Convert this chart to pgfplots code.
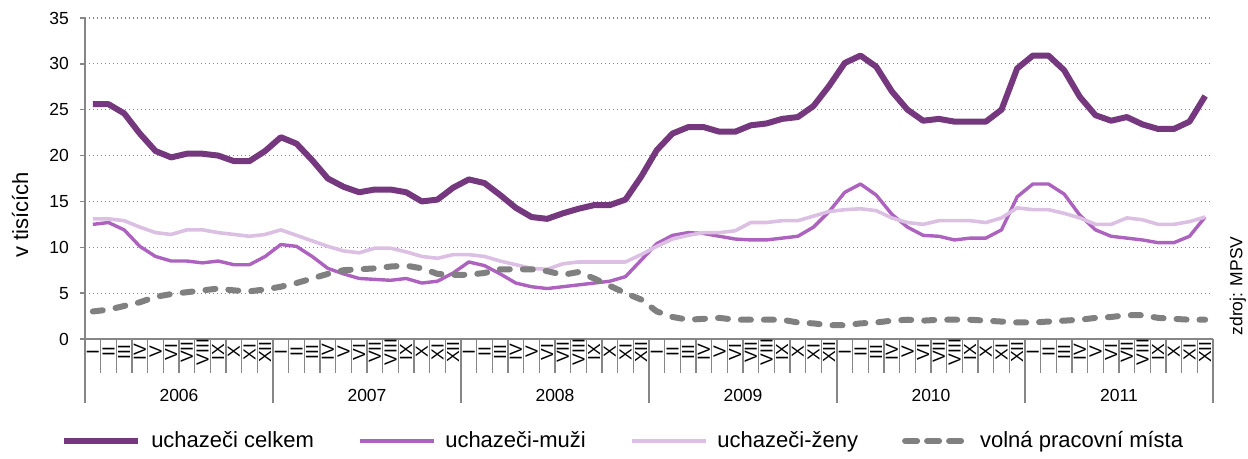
\documentclass[border=0pt]{standalone}
\usepackage{fontspec}
\setmainfont{Liberation Sans}
\usepackage{pgfplots}
\pgfplotsset{compat=1.18}
\usepackage{pgfplotstable}

\definecolor{celk}{RGB}{117,55,125}
\definecolor{muzi}{RGB}{172,98,190}
\definecolor{zeny}{RGB}{220,192,228}
\definecolor{volna}{RGB}{128,128,128}
\definecolor{axgray}{RGB}{134,134,134}

\pgfplotsset{dashleg/.style={legend image code/.code={\draw[##1, dash pattern=on 6pt off 5pt] (3pt,0pt) -- (34pt,0pt);}}}

\pgfplotstableread{
m tot men wom vac
0 25.6 12.5 13.1 3.0
1 25.6 12.7 13.1 3.2
2 24.6 11.9 12.9 3.6
3 22.4 10.1 12.2 4.0
4 20.5 9.0 11.6 4.6
5 19.8 8.5 11.4 4.9
6 20.2 8.5 11.9 5.1
7 20.2 8.3 11.9 5.3
8 20.0 8.5 11.6 5.5
9 19.4 8.1 11.4 5.3
10 19.4 8.1 11.2 5.2
11 20.5 9.0 11.4 5.4
12 22.0 10.3 11.9 5.7
13 21.3 10.1 11.3 6.1
14 19.5 9.0 10.7 6.6
15 17.5 7.7 10.1 7.1
16 16.6 7.1 9.6 7.5
17 16.0 6.6 9.4 7.6
18 16.3 6.5 9.9 7.7
19 16.3 6.4 9.9 7.9
20 16.0 6.6 9.5 8.0
21 15.0 6.1 9.0 7.7
22 15.2 6.3 8.8 7.1
23 16.5 7.2 9.2 7.0
24 17.4 8.4 9.2 7.0
25 17.0 8.0 9.0 7.2
26 15.7 7.1 8.5 7.6
27 14.3 6.1 8.1 7.6
28 13.3 5.7 7.7 7.6
29 13.1 5.5 7.6 7.4
30 13.7 5.7 8.2 7.0
31 14.2 5.9 8.4 7.3
32 14.6 6.1 8.4 6.6
33 14.6 6.3 8.4 5.8
34 15.2 6.8 8.4 5.0
35 17.7 8.6 9.2 4.3
36 20.6 10.4 10.1 3.0
37 22.4 11.3 10.9 2.4
38 23.1 11.6 11.3 2.1
39 23.1 11.5 11.6 2.2
40 22.6 11.2 11.6 2.3
41 22.6 10.9 11.8 2.1
42 23.3 10.8 12.7 2.1
43 23.5 10.8 12.7 2.1
44 24.0 11.0 12.9 2.1
45 24.2 11.2 12.9 1.8
46 25.4 12.2 13.4 1.7
47 27.6 13.9 13.9 1.5
48 30.1 16.0 14.1 1.5
49 30.9 16.9 14.2 1.7
50 29.7 15.7 14.0 1.8
51 27.0 13.6 13.2 2.0
52 25.0 12.2 12.7 2.1
53 23.8 11.3 12.5 2.0
54 24.0 11.2 12.9 2.1
55 23.7 10.8 12.9 2.1
56 23.7 11.0 12.9 2.1
57 23.7 11.0 12.7 2.0
58 25.0 11.9 13.2 1.9
59 29.5 15.5 14.3 1.8
60 30.9 16.9 14.1 1.8
61 30.9 16.9 14.1 1.9
62 29.3 15.8 13.7 2.0
63 26.4 13.5 13.2 2.1
64 24.4 11.9 12.5 2.3
65 23.8 11.2 12.5 2.4
66 24.2 11.0 13.2 2.6
67 23.4 10.8 13.0 2.6
68 22.9 10.5 12.5 2.3
69 22.9 10.5 12.5 2.2
70 23.7 11.2 12.8 2.1
71 26.5 13.3 13.3 2.1
}\data

\begin{document}
\begin{tikzpicture}
\begin{axis}[
  at={(0,0)}, anchor=south west,
  width=564pt, height=160.5pt, scale only axis,
  xmin=-0.5, xmax=71.5, ymin=0, ymax=35,
  clip=false,
  no markers,
  axis x line*=bottom, axis y line*=left,
  axis line style={draw=axgray, line width=1.3pt},
  ytick={0,5,...,35},
  ymajorgrids,
  grid style={draw=axgray, line width=0.6pt, dash pattern=on 0.6pt off 1.4pt},
  tick align=outside,
  major tick length=2.5pt,
  ytick style={draw=axgray, line width=0.75pt},
  xtick={0,...,71},
  xticklabels={I,II,III,IV,V,VI,VII,VIII,IX,X,XI,XII,
               I,II,III,IV,V,VI,VII,VIII,IX,X,XI,XII,
               I,II,III,IV,V,VI,VII,VIII,IX,X,XI,XII,
               I,II,III,IV,V,VI,VII,VIII,IX,X,XI,XII,
               I,II,III,IV,V,VI,VII,VIII,IX,X,XI,XII,
               I,II,III,IV,V,VI,VII,VIII,IX,X,XI,XII},
  major x tick style={draw=none},
  minor xtick={-0.5,0.5,...,71.5},
  minor tick length=17pt,
  minor x tick style={draw=axgray, line width=0.75pt},
  tick label style={font=\fontsize{8.75}{10}\selectfont},
  xticklabel style={rotate=90, anchor=center, xshift=-4pt},
  yticklabel style={xshift=-2pt},
  /pgf/number format/assume math mode=true,
  ylabel={v tisících},
  ylabel style={at={(axis description cs:-0.0576,0.386)}, anchor=center, font=\fontsize{11}{13}\selectfont},
  legend columns=4,
  legend style={at={(axis description cs:0.478,-0.318)}, anchor=center, draw=none,
    font=\fontsize{11}{13}\selectfont,
    /tikz/every even column/.append style={column sep=20pt},
    /tikz/every odd column/.append style={column sep=3pt}},
  legend image code/.code={\draw[#1] (0pt,0pt) -- (37pt,0pt);},
]
\addplot[color=celk, line width=3pt, line join=round] table[x=m,y=tot]{\data};
\addlegendentry{uchazeči celkem}
\addplot[color=muzi, line width=1.7pt, line join=round] table[x=m,y=men]{\data};
\addlegendentry{uchazeči-muži}
\addplot[color=zeny, line width=1.8pt, line join=round] table[x=m,y=wom]{\data};
\addlegendentry{uchazeči-ženy}
\addplot[color=volna, line width=3pt, dash pattern=on 5pt off 6.5pt, line cap=round, line join=round, dashleg] table[x=m,y=vac]{\data};
\addlegendentry{volná pracovní místa}

\pgfplotsinvokeforeach{-0.5,11.5,23.5,35.5,47.5,59.5,71.5}{
  \draw[axgray, line width=0.75pt] (axis cs:#1,0) -- ++(0pt,-32pt);
}
\node[font=\fontsize{8.75}{10}\selectfont] at (axis cs:5.5,0) [yshift=-28pt] {2006};
\node[font=\fontsize{8.75}{10}\selectfont] at (axis cs:17.5,0) [yshift=-28pt] {2007};
\node[font=\fontsize{8.75}{10}\selectfont] at (axis cs:29.5,0) [yshift=-28pt] {2008};
\node[font=\fontsize{8.75}{10}\selectfont] at (axis cs:41.5,0) [yshift=-28pt] {2009};
\node[font=\fontsize{8.75}{10}\selectfont] at (axis cs:53.5,0) [yshift=-28pt] {2010};
\node[font=\fontsize{8.75}{10}\selectfont] at (axis cs:65.5,0) [yshift=-28pt] {2011};
\node[rotate=90, font=\fontsize{8.75}{10}\selectfont] at (axis description cs:1.022,0.165) {zdroj: MPSV};
\end{axis}
\pgfresetboundingbox
\path[use as bounding box] (-42.5pt,-60pt) rectangle (581.5pt,169.5pt);
\end{tikzpicture}
\end{document}
